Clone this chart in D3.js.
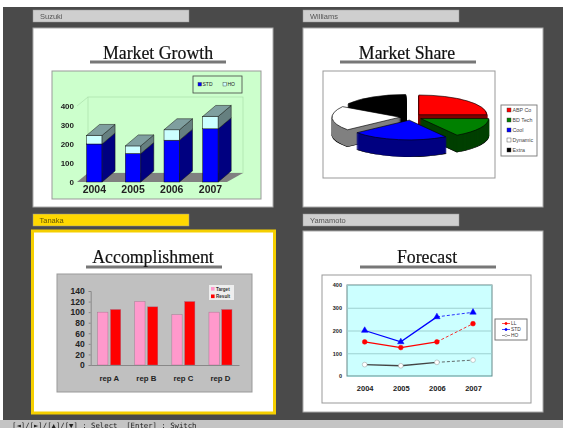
<!DOCTYPE html>
<html lang="en">
    <head>
        <meta charset="utf-8">
        <title>Charts</title>
        <script src="https://d3js.org/d3.v7.min.js"></script>
        <style>
            html, body { margin:0; padding:0; background:#fff; }
            svg { display:block; filter:blur(0.55px); }
        </style>
    </head>
    <body>
        <script type="text/javascript">
            var names = ["Suzuki", "Williams", "Tanaka", "Yamamoto"];
            var titles = ["Market Growth", "Market Share", "Accomplishment", "Forecast"];

            var growth_years = ["2004", "2005", "2006", "2007"];
            var growth_std = [200, 150, 220, 280];
            var growth_ho = [45, 40, 55, 65];
            var growth_ticks = [0, 100, 200, 300, 400];

            var share_names = ["ABP Co", "BD Tech", "Cool", "Dynamic", "Extra"];
            var share_values = [25, 16, 23, 20, 16];
            var share_top = ["#ff0000", "#008000", "#0000ff", "#ffffff", "#000000"];
            var share_side = ["#800000", "#004000", "#000080", "#808080", "#000000"];

            var reps = ["rep A", "rep B", "rep C", "rep D"];
            var rep_target = [100, 120, 95, 100];
            var rep_result = [105, 110, 120, 105];
            var rep_ticks = [0, 20, 40, 60, 80, 100, 120, 140];

            var forecast_years = ["2004", "2005", "2006", "2007"];
            var forecast_ll = [150, 125, 150, 230];
            var forecast_std = [200, 150, 260, 280];
            var forecast_ho = [50, 45, 60, 70];
            var forecast_ticks = [0, 100, 200, 300, 400];

            var sans = "'Liberation Sans', Arial, sans-serif";

            var svg = d3.select("body").append("svg")
                .attr("width", 563)
                .attr("height", 428);

            svg.append("rect").attr("x", 3).attr("y", 7).attr("width", 560).attr("height", 413).attr("fill", "#4a4a4a");
            svg.append("rect").attr("x", 0).attr("y", 420).attr("width", 563).attr("height", 8).attr("fill", "#c4c4c4");
            svg.append("text").attr("x", 12).attr("y", 427.5)
                .attr("font-family", "'DejaVu Sans Mono', monospace").attr("font-size", 7.3).attr("fill", "#222")
                .attr("xml:space", "preserve")
                .text("[\u25C4]/[\u25BA]/[\u25B2]/[\u25BC] : Select  [Enter] : Switch");

            // tag + page for each person
            var panels = [
                {x: 33, y: 28, w: 240, h: 179, tagY: 10, titleY: 59, lineY: 62, cx: 158},
                {x: 303, y: 28, w: 240, h: 179, tagY: 10, titleY: 59, lineY: 62, cx: 407},
                {x: 32.5, y: 231, w: 242, h: 182, tagY: 214, titleY: 263, lineY: 267, cx: 153},
                {x: 303, y: 231, w: 240, h: 181, tagY: 214, titleY: 263, lineY: 267, cx: 427}
            ];
            var line_x = [90, 340, 86, 360];

            panels.forEach(function (p, i) {
                var selected = names[i] == "Tanaka";
                svg.append("rect").attr("x", selected ? 33 : p.x).attr("y", p.tagY).attr("width", 156).attr("height", 12)
                    .attr("fill", selected ? "#ffd800" : "#cfcfcf").attr("stroke", "#999").attr("stroke-width", 0.5);
                svg.append("text").attr("x", p.x + 7).attr("y", p.tagY + 9)
                    .attr("font-family", sans).attr("font-size", 7.5).attr("fill", selected ? "#665500" : "#555")
                    .text(names[i]);
                svg.append("rect").attr("x", p.x).attr("y", p.y).attr("width", p.w).attr("height", p.h)
                    .attr("fill", "#fff")
                    .attr("stroke", selected ? "#f5cf00" : "#aaa")
                    .attr("stroke-width", selected ? 3 : 1);
                svg.append("rect").attr("x", line_x[i]).attr("y", p.lineY - 1.5).attr("width", 136).attr("height", 3).attr("fill", "#777");
                svg.append("text").attr("x", p.cx).attr("y", p.titleY).attr("text-anchor", "middle")
                    .attr("font-family", "'Liberation Serif', serif").attr("font-size", 17.8).attr("fill", "#111")
                    .attr("stroke", "#111").attr("stroke-width", 0.2)
                    .text(titles[i]);
            });

            function style_axis(g, size, weight) {
                g.attr("font-family", sans).attr("font-size", size).attr("font-weight", weight);
                g.selectAll("text").attr("fill", "#222");
            }

            function frame(x, y, w, h, fill, stroke) {
                svg.append("rect").attr("x", x).attr("y", y).attr("width", w).attr("height", h)
                    .attr("fill", fill).attr("stroke", stroke).attr("stroke-width", 1);
            }

            /* Market Growth: stacked 3d columns */
            function draw_growth() {
                frame(52, 71, 209, 128, "#ccffcc", "#999");

                var dx = 13, dy = 11;
                var x = d3.scaleBand().domain(growth_years).range([77.3, 227.5]).paddingInner(0.6).paddingOuter(0.24);
                var y = d3.scaleLinear().domain([0, 400]).range([182, 106]);

                var back = svg.append("g").attr("fill", "none").attr("stroke", "#aadfaa").attr("stroke-width", 0.7);
                back.append("rect").attr("x", 88).attr("y", y(400) - 9).attr("width", 155).attr("height", 76);
                back.append("line").attr("x1", 77).attr("y1", y(400)).attr("x2", 88).attr("y2", y(400) - 9);

                svg.append("polygon")
                    .attr("points", [[77, y(0)], [227, y(0)], [243, y(0) - 9], [88, y(0) - 9]].join(" "))
                    .attr("fill", "#808080");

                function box(g, x0, v0, v1, front, side, top) {
                    var w = x.bandwidth();
                    g.append("rect").attr("x", x0).attr("y", y(v1)).attr("width", w).attr("height", y(v0) - y(v1))
                        .attr("fill", front).attr("stroke", "#111").attr("stroke-width", 0.5);
                    g.append("polygon")
                        .attr("points", [[x0 + w, y(v0)], [x0 + w + dx, y(v0) - dy], [x0 + w + dx, y(v1) - dy], [x0 + w, y(v1)]].join(" "))
                        .attr("fill", side).attr("stroke", "#111").attr("stroke-width", 0.5);
                    if (top) {
                        g.append("polygon")
                            .attr("points", [[x0, y(v1)], [x0 + dx, y(v1) - dy], [x0 + w + dx, y(v1) - dy], [x0 + w, y(v1)]].join(" "))
                            .attr("fill", top).attr("stroke", "#111").attr("stroke-width", 0.5);
                    }
                }

                growth_years.forEach(function (year, i) {
                    var g = svg.append("g");
                    box(g, x(year), 0, growth_std[i], "#0000ff", "#000080", null);
                    box(g, x(year), growth_std[i], growth_std[i] + growth_ho[i], "#ccffff", "#668080", "#7f9f9f");
                });

                var ay = svg.append("g").attr("transform", "translate(77,0)")
                    .call(d3.axisLeft(y).tickValues(growth_ticks).tickSize(0).tickPadding(3));
                ay.select(".domain").remove();
                style_axis(ay, 8, "bold");

                var ax = svg.append("g").attr("transform", "translate(0,183)")
                    .call(d3.axisBottom(x).tickSize(0).tickPadding(3));
                ax.select(".domain").remove();
                style_axis(ax, 10.5, "bold");

                svg.append("rect").attr("x", 193).attr("y", 76).attr("width", 49).attr("height", 17)
                    .attr("fill", "#ccffcc").attr("stroke", "#444").attr("stroke-width", 0.8);
                [["STD", "#0000ff", 198], ["HO", "#ccffff", 223]].forEach(function (d) {
                    svg.append("rect").attr("x", d[2]).attr("y", 82.5).attr("width", 3.5).attr("height", 3.5)
                        .attr("fill", d[1]).attr("stroke", "#333").attr("stroke-width", 0.4);
                    svg.append("text").attr("x", d[2] + 4.5).attr("y", 86.3)
                        .attr("font-family", sans).attr("font-size", 5).attr("fill", "#222").text(d[0]);
                });
            }

            /* Market Share: exploded 3d pie, squashed arcs stacked for the sides */
            function draw_share() {
                frame(323, 71, 172, 107, "#fff", "#999");

                var cx = 411, cy = 117, squash = 0.29, depth = 17, explode = 11;
                var pie = d3.pie().sort(null)(share_values);
                var arc = d3.arc().innerRadius(0).outerRadius(68);

                // back slices first so the front ones cover them
                var order = [4, 0, 3, 1, 2];
                order.forEach(function (i) {
                    var d = pie[i];
                    var mid = (d.startAngle + d.endAngle) / 2;
                    var ox = cx + Math.sin(mid) * explode;
                    var oy = cy - Math.cos(mid) * explode * squash;
                    var g = svg.append("g");
                    d3.range(depth, 0, -1).forEach(function (z) {
                        g.append("path").attr("d", arc(d))
                            .attr("transform", "translate(" + ox + "," + (oy + z) + ") scale(1," + squash + ")")
                            .attr("fill", share_side[i])
                            .attr("stroke", z == depth ? "#000" : share_side[i])
                            .attr("stroke-width", 1.5);
                    });
                    g.append("path").attr("d", arc(d))
                        .attr("transform", "translate(" + ox + "," + oy + ") scale(1," + squash + ")")
                        .attr("fill", share_top[i]).attr("stroke", "#000").attr("stroke-width", 1);
                });

                var rows = d3.scalePoint().domain(share_names).range([110, 150]);
                svg.append("rect").attr("x", 501).attr("y", 105).attr("width", 36).attr("height", 51)
                    .attr("fill", "#fff").attr("stroke", "#777").attr("stroke-width", 0.9);
                share_names.forEach(function (name, i) {
                    svg.append("rect").attr("x", 507).attr("y", rows(name) - 2).attr("width", 4).attr("height", 4)
                        .attr("fill", share_top[i]).attr("stroke", "#333").attr("stroke-width", 0.4);
                    svg.append("text").attr("x", 512.5).attr("y", rows(name) + 2)
                        .attr("font-family", sans).attr("font-size", 5.3).attr("fill", "#444").text(name);
                });
            }

            /* Accomplishment: clustered columns */
            function draw_accomplishment() {
                frame(57, 274, 195, 118, "#c0c0c0", "#999");

                var x = d3.scaleBand().domain(reps).range([90.7, 239]);
                var inner = d3.scaleBand().domain(["target", "result"]).range([0, x.bandwidth()]).paddingInner(0.2).paddingOuter(0.55);
                var y = d3.scaleLinear().domain([0, 140]).range([365, 291]);

                function bars(values, key, color) {
                    svg.append("g").selectAll("rect").data(values).enter().append("rect")
                        .attr("x", function (d, i) { return x(reps[i]) + inner(key); })
                        .attr("y", function (d) { return y(d); })
                        .attr("width", inner.bandwidth())
                        .attr("height", function (d) { return y(0) - y(d); })
                        .attr("fill", color)
                        .attr("stroke", "#a06a88").attr("stroke-width", 0.4);
                }
                bars(rep_target, "target", "#ff99cc");
                bars(rep_result, "result", "#ff0000");

                var ay = svg.append("g").attr("transform", "translate(90.7,0)")
                    .call(d3.axisLeft(y).tickValues(rep_ticks).tickSize(2).tickPadding(4));
                ay.selectAll("path,line").attr("stroke", "#888");
                style_axis(ay, 8.5, "bold");

                var ax = svg.append("g").attr("transform", "translate(0,365)")
                    .call(d3.axisBottom(x).tickSize(0).tickPadding(10));
                ax.select(".domain").attr("stroke", "#888");
                style_axis(ax, 7.8, "bold");

                svg.append("rect").attr("x", 209).attr("y", 285).attr("width", 25).attr("height", 15).attr("fill", "#eee");
                [["Target", "#ff99cc", 289], ["Result", "#ff0000", 296.5]].forEach(function (d) {
                    svg.append("rect").attr("x", 211).attr("y", d[2] - 2).attr("width", 3.6).attr("height", 3.6).attr("fill", d[1]);
                    svg.append("text").attr("x", 216).attr("y", d[2] + 1.5)
                        .attr("font-family", sans).attr("font-size", 4.6).attr("font-weight", "bold").attr("fill", "#333").text(d[0]);
                });
            }

            /* Forecast: lines, last segment dashed */
            function draw_forecast() {
                frame(322, 275, 209, 128, "#fff", "#999");

                var x = d3.scalePoint().domain(forecast_years).range([364.7, 473]);
                var y = d3.scaleLinear().domain([0, 400]).range([376, 285]);

                svg.append("rect").attr("x", 347).attr("y", y(400)).attr("width", 145).attr("height", y(0) - y(400))
                    .attr("fill", "#ccffff").attr("stroke", "#688").attr("stroke-width", 1);

                var ay = svg.append("g").attr("transform", "translate(347,0)")
                    .call(d3.axisLeft(y).tickValues(forecast_ticks).tickSize(-145).tickPadding(5));
                ay.select(".domain").remove();
                ay.selectAll("line").attr("stroke", "#9cc").attr("stroke-width", 0.9);
                style_axis(ay, 5.5, "bold");

                var ax = svg.append("g").attr("transform", "translate(0,376)")
                    .call(d3.axisBottom(x).tickSize(0).tickPadding(10));
                ax.select(".domain").remove();
                style_axis(ax, 7.5, "bold");

                var line = d3.line()
                    .defined(function (d) { return d !== null; })
                    .x(function (d, i) { return x(forecast_years[i]); })
                    .y(function (d) { return y(d); });

                function series(values, color, marker, fill) {
                    var solid = values.map(function (d, i) { return i <= 2 ? d : null; });
                    var dashed = values.map(function (d, i) { return i >= 2 ? d : null; });
                    svg.append("path").attr("d", line(solid))
                        .attr("fill", "none").attr("stroke", color).attr("stroke-width", 1.3);
                    svg.append("path").attr("d", line(dashed))
                        .attr("fill", "none").attr("stroke", color).attr("stroke-width", 1).attr("stroke-dasharray", "3,2").attr("opacity", 0.8);
                    svg.append("g").selectAll("path").data(values).enter().append("path")
                        .attr("d", d3.symbol().type(marker).size(18))
                        .attr("transform", function (d, i) { return "translate(" + x(forecast_years[i]) + "," + y(d) + ")"; })
                        .attr("fill", fill).attr("stroke", fill == "#fff" ? "#999" : color).attr("stroke-width", 0.5);
                }
                series(forecast_ho, "#444", d3.symbolCircle, "#fff");
                series(forecast_ll, "#ff0000", d3.symbolCircle, "#ff0000");
                series(forecast_std, "#0000ff", d3.symbolTriangle, "#0000ff");

                svg.append("rect").attr("x", 495).attr("y", 319).attr("width", 32).attr("height", 21)
                    .attr("fill", "#fff").attr("stroke", "#777").attr("stroke-width", 1);
                [["LL", "#ff0000", 323.5], ["STD", "#0000ff", 329.5], ["HO", "#666", 335.5]].forEach(function (d) {
                    svg.append("line").attr("x1", 502).attr("x2", 510).attr("y1", d[2]).attr("y2", d[2]).attr("stroke", d[1]).attr("stroke-width", 0.7);
                    svg.append("circle").attr("cx", 506).attr("cy", d[2]).attr("r", 1.2).attr("fill", d[1] == "#666" ? "#fff" : d[1]).attr("stroke", d[1]).attr("stroke-width", 0.4);
                    svg.append("text").attr("x", 511).attr("y", d[2] + 1.8)
                        .attr("font-family", sans).attr("font-size", 4.8).attr("fill", "#333").text(d[0]);
                });
            }

            draw_growth();
            draw_share();
            draw_accomplishment();
            draw_forecast();
        </script>
    </body>
</html>
